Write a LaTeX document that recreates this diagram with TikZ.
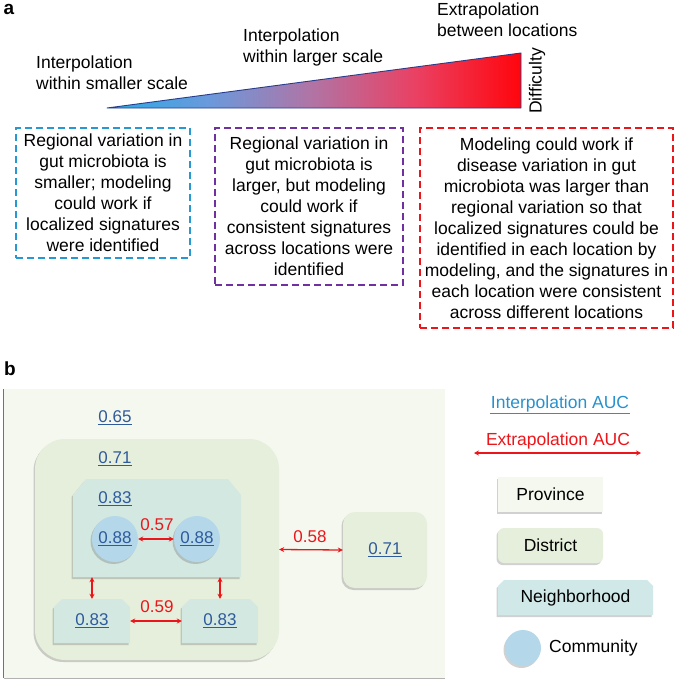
\documentclass[tikz,border=0pt]{standalone}
\usepackage{fontspec}
\setmainfont{Liberation Sans}
\usetikzlibrary{arrows.meta,shadows}
\definecolor{dashblue}{RGB}{38,152,210}
\definecolor{dashpurple}{RGB}{112,48,160}
\definecolor{myred}{RGB}{236,22,26}
\definecolor{numblue}{RGB}{47,90,155}
\definecolor{legblue}{RGB}{40,145,205}
\definecolor{provfill}{RGB}{244,248,238}
\definecolor{distfill}{RGB}{230,239,219}
\definecolor{neighfill}{RGB}{211,232,225}
\definecolor{neighleg}{RGB}{208,232,232}
\definecolor{commfill}{RGB}{180,216,234}
\definecolor{trline}{RGB}{40,60,140}
\pgfdeclarehorizontalshading{trishade}{100bp}{rgb(0bp)=(0.16,0.67,0.90); rgb(25bp)=(0.16,0.67,0.90); rgb(37.5bp)=(0.42,0.60,0.86); rgb(50bp)=(0.70,0.45,0.64); rgb(62.5bp)=(0.92,0.25,0.38); rgb(75bp)=(1,0.02,0.05); rgb(100bp)=(1,0.02,0.05)}
\tikzset{
  bigfont/.style={font=\fontsize{17.5}{21}\selectfont},
  toptxt/.style={bigfont, align=left, inner sep=0pt},
  dbox/.style={draw, dash pattern=on 7pt off 4pt, line width=2.2pt, bigfont, align=center, inner sep=0pt},
  panel/.style={font=\fontsize{19}{21}\selectfont\bfseries, inner sep=0pt},
  num/.style={text=numblue, font=\fontsize{17}{20}\selectfont, inner sep=1pt},
  rnum/.style={text=myred, font=\fontsize{17}{20}\selectfont, inner sep=1pt},
  legtxt/.style={bigfont, inner sep=1pt},
  rarrow/.style={draw=myred, line width=1.3pt, {Stealth[length=5pt,width=5pt]}-{Stealth[length=5pt,width=5pt]}},
  shad/.style={drop shadow={shadow xshift=-1.5pt, shadow yshift=-2pt, opacity=0.3, fill=black!60}},
  provbox/.style={rectangle, fill=provfill, inner sep=0pt},
  distbox/.style={rectangle, fill=distfill, inner sep=0pt, shad},
  anchorbox/.style={rectangle, inner sep=0pt},
  comm/.style={circle, fill=commfill, inner sep=0pt, shad},
}
% filled box with chamfered top corners: colour, x1, y1, x2, y2, chamfer x, chamfer y
\newcommand\chamfill[7]{\fill[#1, shad] (#2,#5) -- (#2,#3+#7) -- (#2+#6,#3) -- (#4-#6,#3) -- (#4,#3+#7) -- (#4,#5) -- cycle;}
\begin{document}
\begin{tikzpicture}[x=1pt,y=-1pt]
\useasboundingbox (0,0) rectangle (675,685);
% ---------- panel a ----------
\node[panel] (pa) at (9,9.5) {a};
\shade[shading=trishade] (107,108) -- (521,53) -- (521,108) -- cycle;
\draw[trline, line width=0.9pt, line join=round] (107,108) -- (521,53) -- (521,108) -- cycle;
\node[toptxt, anchor=north west] (t1) at (36,55.5) {Interpolation\\within smaller scale};
\node[toptxt, anchor=north west] (t2) at (243,28.5) {Interpolation\\within larger scale};
\node[toptxt, anchor=north west] (t3) at (437,2.5) {Extrapolation\\between locations};
\node[bigfont, rotate=90, inner sep=0pt] (diff) at (537,81) {Difficulty};

\node[dbox, draw=dashblue, minimum width=174pt, minimum height=130pt] (b1) at (103,193)
  {Regional variation in\\gut microbiota is\\smaller; modeling\\could work if\\localized signatures\\were identified};
\node[dbox, draw=dashpurple, minimum width=188pt, minimum height=157pt] (b2) at (309,206.5)
  {Regional variation in\\gut microbiota is\\larger, but modeling\\could work if\\consistent signatures\\across locations were\\identified};
\node[dbox, draw=myred, minimum width=253pt, minimum height=200pt] (b3) at (546.5,228)
  {Modeling could work if\\disease variation in gut\\microbiota was larger than\\regional variation so that\\localized signatures could be\\identified in each location by\\modeling, and the signatures in\\each location were consistent\\across different locations};

% ---------- panel b ----------
\node[panel] (pb) at (10,369) {b};
\node[provbox, minimum width=441pt, minimum height=289pt] (prov) at (224.5,533.5) {};
\draw[black!55, line width=1.2pt] (prov.north west) -- (prov.south west);
\draw[black!30, line width=1pt] (prov.south west) -- (prov.south east);

\node[distbox, rounded corners=30pt, minimum width=244pt, minimum height=221pt] (dist) at (157,549.5) {};
\chamfill{neighfill}{73}{479}{241}{577}{13}{16}
\node[anchorbox, minimum width=168pt, minimum height=98pt] (nb) at (157,528) {};

\node[num] (n65) at (115,418) {\underline{0.65}};
\node[num] (n71) at (115,459) {\underline{0.71}};
\node[num] (n83) at (115,499) {\underline{0.83}};

\node[comm, minimum size=46pt, text=numblue, font=\fontsize{17}{20}\selectfont] (c1) at (115,539) {\underline{0.88}};
\node[comm, minimum size=46pt, text=numblue, font=\fontsize{17}{20}\selectfont] (c2) at (197,539) {\underline{0.88}};
\draw[rarrow] (c1) -- (c2);
\node[rnum] (n57) at (157,525) {0.57};

\chamfill{neighfill}{54}{599}{130}{643}{8}{8}
\chamfill{neighfill}{182}{599}{258}{643}{8}{8}
\node[anchorbox, minimum width=76pt, minimum height=44pt, text=numblue, font=\fontsize{17}{20}\selectfont] (nbl) at (92,621) {\underline{0.83}};
\node[anchorbox, minimum width=76pt, minimum height=44pt, text=numblue, font=\fontsize{17}{20}\selectfont] (nbr) at (220,621) {\underline{0.83}};
\draw[rarrow] (nbl.north) -- (nbl.north |- nb.south);
\draw[rarrow] (nbr.north) -- (nbr.north |- nb.south);
\draw[rarrow] (nbl) -- (nbr);
\node[rnum] (n59) at (157,607) {0.59};

\node[distbox, rounded corners=12pt, minimum width=84pt, minimum height=76pt, text=numblue, font=\fontsize{17}{20}\selectfont] (dist2) at (385,550) {\underline{0.71}};
\draw[rarrow] (dist.east) -- (dist2.west);
\node[rnum] (n58) at (310,537) {0.58};

% ---------- legend ----------
\node[legtxt, text=legblue] (li) at (560,405) {\underline{\kern1pt Interpolation AUC\kern1pt}};
\node[legtxt, text=myred] (le) at (558,441) {Extrapolation AUC};
\coordinate (ea) at (474,453);
\coordinate (eb) at (641,453);
\draw[rarrow] (ea) -- (eb);
\node[provbox, shad, minimum width=105pt, minimum height=35pt, legtxt] (lp) at (550.5,494.5) {Province};
\node[distbox, rounded corners=6pt, minimum width=105pt, minimum height=35pt, legtxt] (ld) at (550.5,545.5) {District};
\chamfill{neighleg}{498}{580}{653}{615}{6}{6}
\node[anchorbox, minimum width=155pt, minimum height=35pt, legtxt] (ln) at (575.5,597.5) {Neighborhood};
\node[comm, minimum size=36pt] (lc) at (523,648) {};
\node[legtxt, anchor=west] (lct) at (548,648) {Community};
\end{tikzpicture}
\end{document}
